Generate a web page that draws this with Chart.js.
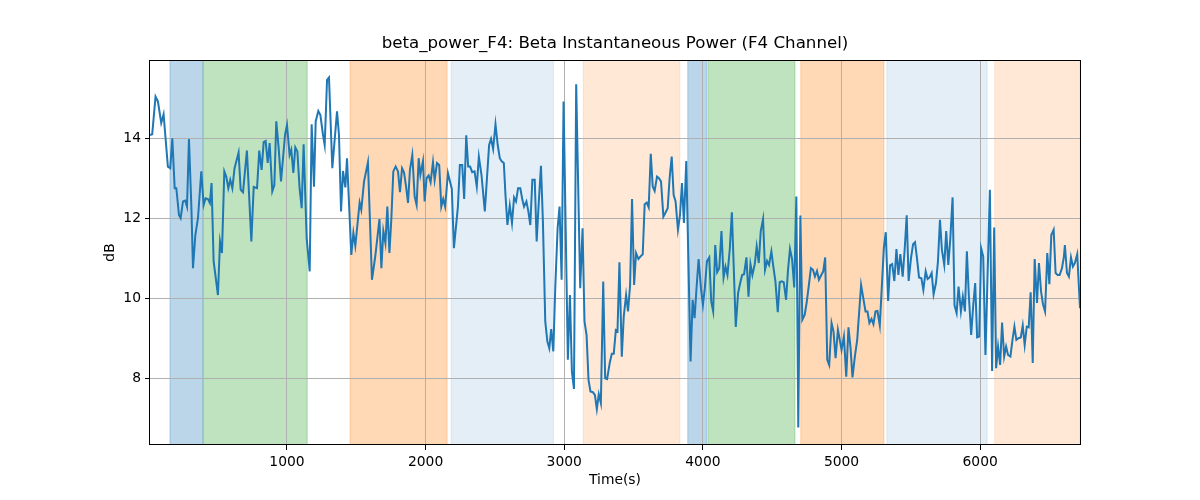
<!DOCTYPE html>
<html><head><meta charset="utf-8">
<script src="https://cdn.jsdelivr.net/npm/chart.js@4.4.1/dist/chart.umd.min.js"></script>
<style>html,body{margin:0;padding:0;background:#fff}#wrap{width:1200px;height:500px}</style>
</head><body><div id="wrap"><canvas id="c" width="1200" height="500"></canvas></div>
<script>
// ---- data ----
const times = [12,28,52,69,93,110,141,158,173,190,202,221,233,250,266,279,293,310,322,339,358,382,399,413,430,444,456,471,502,517,531,548,562,577,591,606,622,651,666,683,711,743,760,784,800,817,832,846,861,875,894,909,923,940,957,986,1000,1019,1031,1046,1060,1075,1091,1106,1120,1142,1164,1178,1195,1207,1226,1241,1260,1272,1289,1303,1327,1361,1375,1390,1404,1421,1433,1464,1479,1493,1524,1536,1556,1584,1613,
1638,1667,1681,1695,1710,1724,1739,1753,1767,1784,1801,1815,1830,1844,1859,1873,1887,1904,1921,1935,1950,1962,1981,1993,2007,2022,2036,2053,2065,2082,2098,2113,2127,2141,2161,2189,2204,2233,2247,2264,2278,2293,2307,2321,2336,2353,2369,2384,2403,2427,2458,2472,2487,2504,2520,2535,2549,2564,2576,2590,2607,2623,2638,2652,2667,2683,2698,2710,2727,2741,2755,2770,2787,2801,2815,2832,2846,2863,2878,2892,2906,2921,2935,2952,2966,2981,2995,3026,3041,3055,3070,3086,3115,3132,3146,3161,3175,3189,3206,3221,3235,3249,3264,3281,3295,3309,
3329,3343,3357,3372,3384,3398,3415,3429,3446,3460,3475,3489,3504,3518,3535,3549,3566,3580,3595,3609,3624,3638,3652,3669,3683,3698,3715,3729,3746,3760,3775,3789,3803,3820,3835,3849,3863,3880,3911,3926,3940,3954,3969,3986,4000,4014,4029,4046,4060,4074,4089,4103,4118,4134,4149,4163,4177,4194,4209,4237,4254,4269,4283,4297,4314,4329,4343,4357,4374,4388,4403,4417,4434,4448,4463,4477,4494,4508,4523,4540,4554,4568,4583,4600,4614,4628,4643,4659,4674,4688,4703,4717,4734,4748,4763,4779,4794,4808,4823,4837,4854,4868,4882,4897,4911,4928,4942,4957,4974,
5000,5017,5034,5050,5065,5079,5096,5113,5141,5156,5173,5187,5201,5216,5230,5245,5259,5276,5290,5305,5319,5336,5350,5365,5381,5396,5410,5424,5441,5456,5470,5484,5501,5516,5530,5544,5559,5576,5590,5607,5621,5635,5650,5664,5681,5695,5710,5724,5741,5755,5770,5784,5801,5815,5830,5844,5861,5875,5890,5904,5918,5935,5950,5964,5978,5993,6007,6022,6038,6070,6086,6101,6115,6129,6144,6158,6173,6187,6201,6218,6233,6247,6261,6276,6293,6307,6321,6336,6350,6364,6379,6393,6410,6424,6439,6453,6468,6484,6499,6513,6530,6544,6559,6573,6590,6604,6611,6626,6640,6655,6669,6683,6700,6720];
const values = [14.08,14.1,15.04,14.92,14.38,14.6,13.29,13.25,14.0,12.75,12.75,12.08,12.0,12.42,12.44,12.29,13.98,12.33,10.75,11.58,12.0,13.17,12.33,12.5,12.48,12.38,12.88,10.92,10.08,11.42,11.13,13.17,13.04,12.75,12.96,12.75,13.25,13.64,12.71,12.65,13.69,11.42,12.78,12.75,13.69,13.21,13.9,13.93,13.38,13.88,12.67,12.83,14.42,13.75,12.92,14.08,14.33,13.58,13.71,13.13,13.77,13.67,12.75,12.25,13.85,11.5,10.67,14.35,12.79,14.42,14.68,14.58,14.08,13.83,15.46,15.52,13.25,14.67,14.08,12.17,13.18,12.77,13.5,11.08,11.63,11.31,12.39,12.21,12.92,13.4,10.46,
11.08,11.98,10.75,11.68,11.38,12.29,11.13,12.0,13.17,13.29,13.17,12.65,13.25,13.15,12.79,12.38,13.21,13.58,12.54,12.33,13.5,13.08,13.43,12.42,13.0,13.07,12.9,13.4,12.96,13.38,13.33,12.29,12.48,12.29,13.13,12.73,11.25,12.29,13.33,13.33,12.48,14.07,13.29,13.29,13.15,13.17,12.79,13.54,13.08,12.17,13.83,13.98,13.73,14.35,13.83,13.5,13.42,13.38,12.58,11.83,12.32,11.88,12.52,12.42,12.75,12.75,12.46,12.29,12.42,12.17,11.83,12.96,12.96,11.42,12.33,13.31,11.92,9.42,8.92,8.75,9.23,8.67,10.25,11.75,12.29,10.46,14.92,8.46,10.08,8.17,7.73,15.35,10.25,11.75,9.42,9.08,7.96,7.67,7.65,7.58,7.23,7.6,7.38,10.42,8.0,7.98,
8.4,8.61,8.61,9.2,9.17,10.9,8.54,9.54,10.08,9.67,10.33,12.48,10.33,11.13,10.98,11.04,11.1,12.35,12.39,12.27,13.61,12.79,12.68,13.04,13.0,12.92,12.04,12.13,12.25,13.0,13.54,12.58,12.42,11.71,12.08,12.88,11.88,13.43,8.42,9.96,9.5,10.25,10.98,10.25,9.83,10.25,10.92,11.02,9.92,9.67,11.33,10.65,10.75,11.68,10.52,10.79,10.58,11.23,12.15,9.28,10.13,10.38,10.58,10.6,11.02,10.04,10.85,10.58,10.85,11.29,10.88,11.67,11.98,10.71,10.93,10.83,11.17,10.79,10.42,9.65,10.4,10.42,10.4,9.96,10.71,11.23,10.98,10.27,12.54,6.77,12.07,9.46,9.58,9.88,10.29,10.75,10.71,10.54,10.68,10.46,10.58,10.67,11.02,8.46,8.33,9.38,9.17,8.5,9.21,
8.71,9.04,8.04,9.27,8.75,8.02,8.54,8.96,10.33,10.02,9.67,9.67,9.38,9.48,9.35,9.67,9.68,9.32,10.25,11.25,11.65,9.93,10.82,10.85,10.43,11.23,10.58,11.1,10.54,11.25,12.07,10.43,11.0,11.35,11.4,11.0,10.52,10.5,10.21,10.67,10.48,10.52,10.63,10.1,10.38,10.9,11.96,11.21,10.83,11.68,10.83,11.46,12.52,9.82,9.63,10.29,9.67,10.04,9.67,11.17,10.08,9.08,9.83,10.38,9.02,9.04,11.25,11.04,8.58,12.71,8.18,11.77,8.25,8.79,8.33,9.39,8.54,8.79,8.58,8.54,8.96,9.29,8.96,9.0,9.02,9.32,8.83,9.29,9.27,10.15,8.38,10.98,9.88,10.88,10.17,9.85,9.67,11.13,10.35,11.58,11.71,10.63,10.58,10.58,10.75,11.04,11.33,10.63,10.54,11.02,10.79,10.88,11.1,9.75];
const xTicks = [1000, 2000, 3000, 4000, 5000, 6000];
const yTicks = [8, 10, 12, 14];
const xLimits = [12, 6720];
const yLimits = [6.33, 15.955];
const spanStarts = [156, 396, 1455, 2185, 3137, 3891, 4036, 4706, 5327, 6105];
const spanEnds   = [393, 1146, 2155, 2922, 3834, 4026, 4664, 5306, 6050, 6720];
const spanPhases = ['A', 'B', 'C', 'D', 'E', 'A', 'B', 'C', 'D', 'E'];
const titleText = 'beta_power_F4: Beta Instantaneous Power (F4 Channel)';
const xLabel = 'Time(s)';
const yLabel = 'dB';

// ---- styles ----
const phaseFill = {
  A: 'rgba(31,119,180,0.3)',
  B: 'rgba(44,160,44,0.3)',
  C: 'rgba(255,127,14,0.3)',
  D: 'rgba(31,119,180,0.12)',
  E: 'rgba(255,127,14,0.17)'
};
const FONT = 'DejaVu Sans';
Chart.defaults.font.family = FONT;
Chart.defaults.color = '#000';

const spanPlugin = {
  id: 'spans',
  beforeDraw(chart) {
    const {ctx, chartArea: a, scales: {x}} = chart;
    ctx.save();
    ctx.beginPath(); ctx.rect(a.left, a.top, a.right - a.left, a.bottom - a.top); ctx.clip();
    spanStarts.forEach((s, i) => {
      const x0 = x.getPixelForValue(s), x1 = x.getPixelForValue(spanEnds[i]);
      const c = phaseFill[spanPhases[i]];
      ctx.fillStyle = c;
      ctx.fillRect(x0, a.top, x1 - x0, a.bottom - a.top);
      ctx.strokeStyle = c; ctx.lineWidth = 1;
      ctx.beginPath();
      ctx.moveTo(x0, a.top); ctx.lineTo(x0, a.bottom);
      ctx.moveTo(x1, a.top); ctx.lineTo(x1, a.bottom);
      ctx.stroke();
    });
    ctx.restore();
  },
  afterDatasetsDraw(chart) {
    const {ctx, chartArea: a} = chart;
    ctx.save();
    ctx.strokeStyle = '#000'; ctx.lineWidth = 1;
    ctx.strokeRect(Math.round(a.left) - 0.5, Math.round(a.top) + 0.5, Math.round(a.right - a.left) + 1, Math.round(a.bottom - a.top) - 1);
    ctx.restore();
  }
};

const tickFont = {family: FONT, size: 13.89};
new Chart(document.getElementById('c'), {
  type: 'line',
  data: {
    datasets: [{
      data: times.map((t, i) => ({x: t, y: values[i]})),
      borderColor: '#1f77b4', borderWidth: 2, pointRadius: 0, tension: 0, fill: false
    }]
  },
  options: {
    responsive: false, animation: false, devicePixelRatio: 1,
    layout: {padding: {left: 0, right: 120, top: 0, bottom: 0}},
    plugins: {
      legend: {display: false}, tooltip: {enabled: false},
      title: {display: true, text: titleText, fullSize: false, color: '#000',
        font: {family: FONT, size: 16.67, weight: 'normal', lineHeight: 1.2},
        padding: {top: 34, bottom: 6}}
    },
    scales: {
      x: {
        type: 'linear', min: xLimits[0], max: xLimits[1],
        afterBuildTicks(s) { s.ticks = xTicks.map(v => ({value: v})); },
        afterFit(s) { s.height = 55; },
        grid: {color: '#b0b0b0', lineWidth: 1, tickColor: '#000', tickLength: 5, drawTicks: true},
        border: {display: false},
        ticks: {padding: 4, color: '#000', font: tickFont, maxRotation: 0, autoSkip: false, callback: v => String(v)},
        title: {display: true, text: xLabel, color: '#000', font: {family: FONT, size: 13.89, lineHeight: 1.2}, padding: {top: 0, bottom: 11.7}}
      },
      y: {
        type: 'linear', min: yLimits[0], max: yLimits[1],
        afterBuildTicks(s) { s.ticks = yTicks.map(v => ({value: v})); },
        afterFit(s) { s.width = 150; },
        grid: {color: '#b0b0b0', lineWidth: 1, tickColor: '#000', tickLength: 5, drawTicks: true},
        border: {display: false},
        ticks: {padding: 4, color: '#000', font: tickFont, callback: v => String(v)},
        title: {display: true, text: yLabel, color: '#000', font: {family: FONT, size: 13.89, lineHeight: 1.2}, padding: {top: 101.7, bottom: 0}}
      }
    }
  },
  plugins: [spanPlugin]
});
</script>
</body></html>
